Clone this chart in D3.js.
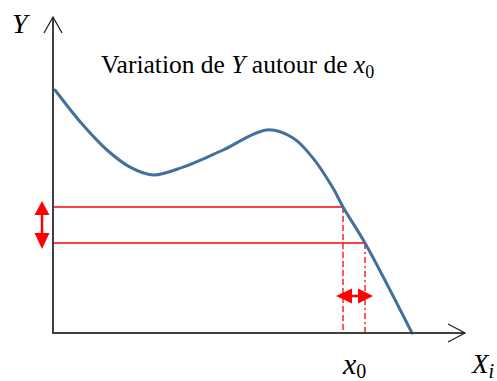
<!DOCTYPE html>
<html><head><meta charset="utf-8">
<script src="https://cdn.jsdelivr.net/npm/d3@7"></script>
<style>html,body{margin:0;padding:0;background:#fff;overflow:hidden}</style>
</head><body>
<svg id="c" width="497" height="381"></svg>
<script>
// Curve samples (data units)
const curveX = [0.05, 0.75, 1.35, 1.925, 2.5, 3.25, 4.25, 5.35, 6.0, 6.5, 7.0, 7.25, 7.8, 8.975];
const curveY = [8.1, 6.93, 6.1, 5.53, 5.27, 5.53, 6.1, 6.77, 6.5, 5.83, 4.83, 4.2, 3.0, 0];
// the two x positions around x0 and matching Y levels
const markX = [7.25, 7.8];
const markY = [4.2, 3.0];
const labels = {title: "Variation de ", titleY: "Y", titleMid: " autour de ", x0: "x", sub0: "0", xi: "X", subi: "i", y: "Y"};

const svg = d3.select("#c");
const x = d3.scaleLinear().domain([0, 10]).range([53, 453]);
const y = d3.scaleLinear().domain([0, 10]).range([333, 33]);
const red = "#ff0000", axisCol = "#404040", blue = "#41719c";
const serif = "Liberation Serif, DejaVu Serif, serif";

// red horizontal lines
markX.forEach((mx, i) => {
  svg.append("line").attr("x1", x(0)).attr("x2", x(mx)).attr("y1", y(markY[i])).attr("y2", y(markY[i]))
    .attr("stroke", red).attr("stroke-width", 1.5);
  svg.append("line").attr("x1", x(mx)).attr("x2", x(mx)).attr("y1", y(markY[i])).attr("y2", y(0))
    .attr("stroke", red).attr("stroke-width", 1.3)
    .attr("stroke-dasharray", i === 0 ? "6,3" : "6,3,2,3");
});

// curve
const pts = curveX.map((v, i) => [x(v), y(curveY[i])]);
svg.append("path").attr("d", d3.line().curve(d3.curveCatmullRom.alpha(0.5))(pts))
  .attr("fill", "none").attr("stroke", blue).attr("stroke-width", 3).attr("stroke-linecap", "round");

// axes
const x0p = x(0), y0p = y(0);
svg.append("line").attr("x1", x0p).attr("x2", x0p).attr("y1", y0p + 1).attr("y2", 17)
  .attr("stroke", axisCol).attr("stroke-width", 2);
svg.append("line").attr("x1", x0p - 1).attr("x2", 465).attr("y1", y0p).attr("y2", y0p)
  .attr("stroke", axisCol).attr("stroke-width", 2);
svg.append("path").attr("d", `M${x0p - 9},33 L${x0p},17 L${x0p + 9},33`)
  .attr("fill", "none").attr("stroke", "#222").attr("stroke-width", 1.3);
svg.append("path").attr("d", `M448,${y0p - 9} L465,${y0p} L448,${y0p + 9}`)
  .attr("fill", "none").attr("stroke", "#222").attr("stroke-width", 1.3);

// vertical red double arrow
const ax = 42, yt = y(markY[0]) - 6, yb = y(markY[1]) + 6;
svg.append("line").attr("x1", ax).attr("x2", ax).attr("y1", yt + 10).attr("y2", yb - 10)
  .attr("stroke", red).attr("stroke-width", 2.5);
svg.append("path").attr("d", `M${ax},${yt} L${ax + 7.5},${yt + 14} L${ax - 7.5},${yt + 14}Z`).attr("fill", red);
svg.append("path").attr("d", `M${ax},${yb} L${ax + 7.5},${yb - 16} L${ax - 7.5},${yb - 16}Z`).attr("fill", red);

// horizontal red double arrow
const ay = 296, xl = x(markX[0]) - 7, xr = x(markX[1]) + 8;
svg.append("line").attr("x1", xl + 10).attr("x2", xr - 10).attr("y1", ay).attr("y2", ay)
  .attr("stroke", red).attr("stroke-width", 2.5);
svg.append("path").attr("d", `M${xl},${ay} L${xl + 16},${ay - 7.5} L${xl + 16},${ay + 7.5}Z`).attr("fill", red);
svg.append("path").attr("d", `M${xr},${ay} L${xr - 15},${ay - 7.5} L${xr - 15},${ay + 7.5}Z`).attr("fill", red);

// texts
svg.append("text").attr("x", 12).attr("y", 33).attr("font-family", serif).attr("font-style", "italic")
  .attr("font-size", 28).attr("fill", "#000").text(labels.y);

const t = svg.append("text").attr("x", 101).attr("y", 73).attr("font-family", serif).attr("font-size", 25.5).attr("fill", "#000");
t.append("tspan").text(labels.title);
t.append("tspan").attr("font-style", "italic").text(labels.titleY);
t.append("tspan").text(labels.titleMid);
t.append("tspan").attr("font-style", "italic").text(labels.x0);
t.append("tspan").attr("dy", 5).attr("font-size", 18).text(labels.sub0);

const tx = svg.append("text").attr("x", 343).attr("y", 374).attr("font-family", serif).attr("font-size", 30).attr("fill", "#000");
tx.append("tspan").attr("font-style", "italic").text(labels.x0);
tx.append("tspan").attr("dy", 4).attr("font-size", 20).text(labels.sub0);

const ti = svg.append("text").attr("x", 472).attr("y", 373).attr("font-family", serif).attr("font-size", 27).attr("fill", "#000");
ti.append("tspan").attr("font-style", "italic").text(labels.xi);
ti.append("tspan").attr("dy", 5).attr("font-size", 20).attr("font-style", "italic").text(labels.subi);
</script>
</body></html>
